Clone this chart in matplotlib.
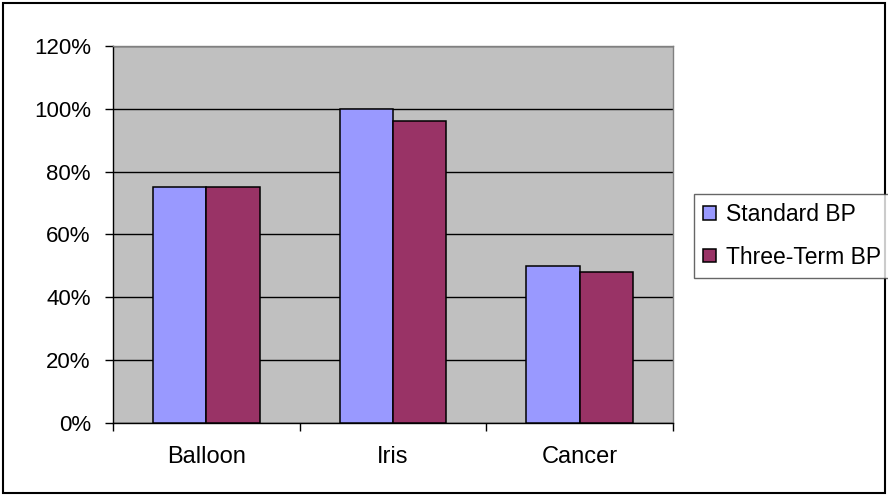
import matplotlib
matplotlib.use("Agg")
import matplotlib.pyplot as plt
import numpy as np
from matplotlib.patches import Rectangle
from matplotlib.ticker import FuncFormatter, MultipleLocator

datasets = ["Balloon", "Iris", "Cancer"]
standard_bp = [75, 100, 50]
three_term_bp = [75, 96, 48]
series_names = ["Standard BP", "Three-Term BP"]
colors = ["#9999FF", "#993366"]

plt.rcParams["font.family"] = ["Liberation Sans", "DejaVu Sans"]

W, H = 888, 496
fig = plt.figure(figsize=(W / 100, H / 100), dpi=100)
fig.patch.set_facecolor("white")

# plot area in pixel coords
left, right, top, bottom = 113, 673, 46, 423
ax = fig.add_axes([left / W, 1 - bottom / H, (right - left) / W, (bottom - top) / H])
ax.set_facecolor("#C0C0C0")

x = np.arange(len(datasets))
bw = 1 / 3.5  # gap width 150%
for i, (vals, name, col) in enumerate(zip([standard_bp, three_term_bp], series_names, colors)):
    ax.bar(x + (i - 0.5) * bw, vals, width=bw, color=col, edgecolor="black",
           linewidth=1.1, label=name, zorder=3)

ax.set_xlim(-0.5, len(datasets) - 0.5)
ax.set_ylim(0, 120)
ax.yaxis.set_major_locator(MultipleLocator(20))
ax.yaxis.set_major_formatter(FuncFormatter(lambda v, p: f"{v:.0f}%"))
ax.grid(axis="y", color="black", linewidth=1, zorder=1)

ax.set_xticks(x)
ax.set_xticklabels(datasets)
ax.set_xticks(np.arange(-0.5, len(datasets)), minor=True)
ax.tick_params(axis="x", which="major", length=0, pad=16.5, labelsize=17)
ax.tick_params(axis="x", which="minor", length=5.5, width=1, direction="out", color="black")
ax.tick_params(axis="y", length=5.5, width=1, direction="out", pad=10.5, labelsize=16)

for side in ["top", "right"]:
    ax.spines[side].set_color("#808080")
    ax.spines[side].set_linewidth(1)
for side in ["left", "bottom"]:
    ax.spines[side].set_color("black")
    ax.spines[side].set_linewidth(1)

leg = fig.legend(loc="upper left", bbox_to_anchor=(694 / W, 1 - 194 / H),
                 frameon=True, fancybox=False, fontsize=16.5, handlelength=0.55,
                 handleheight=0.55, handletextpad=0.45, borderpad=0.4,
                 labelspacing=0.85, borderaxespad=0)
leg.get_frame().set_edgecolor("#404040")
leg.get_frame().set_linewidth(1)
for h in leg.legend_handles:
    h.set_linewidth(1.1)

# outer chart border
fig.add_artist(Rectangle((3 / W, 3 / H), (W - 6) / W, (H - 6) / H,
                         transform=fig.transFigure, fill=False,
                         edgecolor="black", linewidth=1.5))

fig.savefig("out.png", dpi=100)
